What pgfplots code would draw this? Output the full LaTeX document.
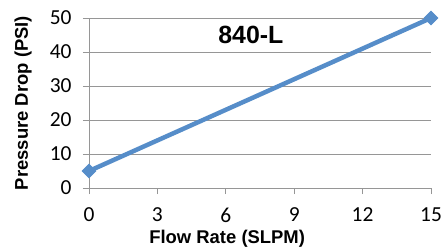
\documentclass[border=0pt]{standalone}
\usepackage{pgfplots}
\pgfplotsset{compat=1.18}
\usepackage{fontspec}
\setmainfont{Carlito}
\newfontfamily\arial{Liberation Sans}
\definecolor{lineblue}{RGB}{86,141,201}
\definecolor{gridgray}{RGB}{150,150,150}
\begin{document}
\begin{tikzpicture}
\useasboundingbox (-89bp,-59bp) rectangle (353bp,188bp);
\begin{axis}[
  at={(0,0)}, anchor=south west,
  scale only axis, width=342bp, height=170bp,
  xmin=0, xmax=15, ymin=0, ymax=50,
  xtick={0,3,...,15}, ytick={0,10,...,50},
  ymajorgrids, grid style={gridgray, line width=0.8bp},
  axis lines*=left,
  axis line style={gridgray, line width=0.8bp},
  tick style={gridgray, line width=0.8bp},
  tick align=outside, major tick length=6bp,
  ticklabel style={font=\fontsize{21.5}{25}\selectfont, text=black},
  /pgf/number format/assume math mode=true,
  xticklabel style={anchor=center, yshift=-21bp},
  yticklabel style={anchor=east, xshift=-8bp},
  xlabel={Flow Rate (SLPM)},
  xlabel style={at={(axis description cs:0.404,-0.329)}, anchor=base, font=\arial\bfseries\fontsize{18.5}{22}\selectfont},
  ylabel={Pressure Drop (PSI)},
  ylabel style={at={(axis description cs:-0.193,0.5)}, anchor=center, rotate=0, font=\arial\bfseries\fontsize{18.5}{22}\selectfont},
  clip=false,
]
\addplot[lineblue, line width=4.5bp, mark=square*, mark size=5bp, mark options={solid, rotate=45, line width=0.5bp, fill=lineblue}] coordinates {(0,5) (15,50)};
\node[font=\arial\bfseries\fontsize{25}{30}\selectfont] at (axis cs:7.1,45) {840-L};
\end{axis}
\end{tikzpicture}
\end{document}
